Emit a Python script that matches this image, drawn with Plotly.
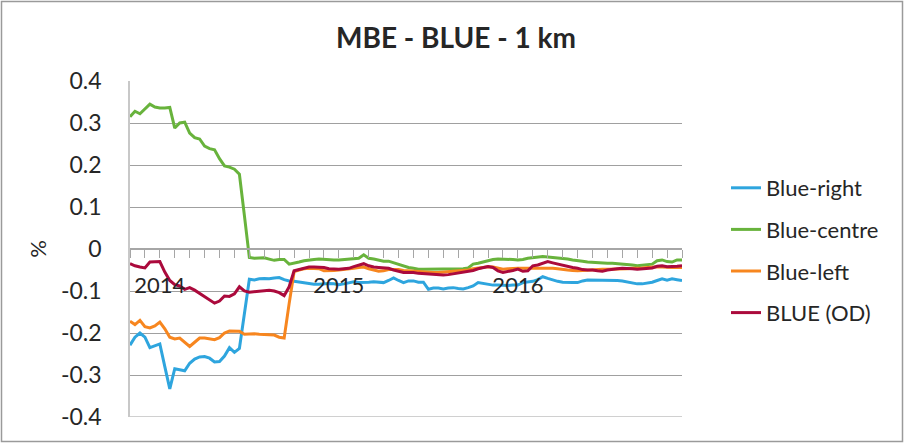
import plotly.graph_objects as go

# ---- data ----
period = list(range(112))  # dekadal periods

blue_right = [-0.229, -0.210, -0.200, -0.210, -0.235, -0.230, -0.226, -0.280, -0.333, -0.285,
              -0.287, -0.290, -0.272, -0.262, -0.257, -0.256, -0.260, -0.269, -0.268, -0.255,
              -0.235, -0.246, -0.237, -0.160, -0.072, -0.074, -0.071, -0.070, -0.071, -0.069,
              -0.068, -0.073, -0.076, -0.077, -0.079, -0.081, -0.083, -0.084, -0.084, -0.083,
              -0.082, -0.083, -0.085, -0.083, -0.080, -0.078, -0.080, -0.080, -0.079, -0.078,
              -0.079, -0.080, -0.075, -0.069, -0.075, -0.080, -0.076, -0.076, -0.079, -0.079,
              -0.096, -0.093, -0.093, -0.095, -0.093, -0.092, -0.094, -0.095, -0.092, -0.088,
              -0.080, -0.082, -0.085, -0.086, -0.086, -0.087, -0.087, -0.086, -0.086, -0.080,
              -0.078, -0.077, -0.073, -0.066, -0.070, -0.074, -0.077, -0.079, -0.080, -0.080,
              -0.080, -0.076, -0.074, -0.074, -0.074, -0.075, -0.074, -0.074, -0.075, -0.076,
              -0.078, -0.081, -0.083, -0.083, -0.081, -0.079, -0.075, -0.071, -0.074, -0.071,
              -0.073, -0.075]

blue_centre = [0.315, 0.328, 0.322, 0.333, 0.345, 0.338, 0.336, 0.336, 0.337, 0.288,
               0.300, 0.302, 0.276, 0.265, 0.262, 0.245, 0.239, 0.236, 0.215, 0.198,
               0.195, 0.190, 0.178, 0.080, -0.020, -0.022, -0.022, -0.021, -0.024, -0.027,
               -0.025, -0.025, -0.036, -0.034, -0.031, -0.028, -0.026, -0.025, -0.024, -0.025,
               -0.025, -0.026, -0.026, -0.025, -0.024, -0.024, -0.022, -0.014, -0.022, -0.024,
               -0.027, -0.029, -0.029, -0.033, -0.037, -0.041, -0.044, -0.046, -0.048, -0.048,
               -0.048, -0.048, -0.048, -0.048, -0.048, -0.048, -0.048, -0.047, -0.045, -0.036,
               -0.034, -0.031, -0.027, -0.025, -0.024, -0.024, -0.024, -0.025, -0.026, -0.025,
               -0.022, -0.021, -0.019, -0.018, -0.019, -0.020, -0.021, -0.023, -0.024, -0.026,
               -0.027, -0.029, -0.031, -0.032, -0.033, -0.034, -0.034, -0.034, -0.035, -0.035,
               -0.036, -0.038, -0.040, -0.039, -0.038, -0.036, -0.028, -0.026, -0.030, -0.031,
               -0.026, -0.026]

blue_left = [-0.172, -0.180, -0.170, -0.185, -0.188, -0.183, -0.174, -0.190, -0.210, -0.214,
             -0.212, -0.222, -0.232, -0.222, -0.212, -0.212, -0.214, -0.216, -0.211, -0.200,
             -0.195, -0.195, -0.196, -0.203, -0.202, -0.202, -0.203, -0.204, -0.205, -0.205,
             -0.210, -0.212, -0.130, -0.054, -0.050, -0.047, -0.046, -0.046, -0.047, -0.052,
             -0.052, -0.051, -0.050, -0.049, -0.047, -0.046, -0.044, -0.043, -0.047, -0.050,
             -0.053, -0.052, -0.049, -0.049, -0.049, -0.051, -0.052, -0.053, -0.054, -0.055,
             -0.056, -0.056, -0.056, -0.055, -0.054, -0.054, -0.053, -0.051, -0.050, -0.047,
             -0.045, -0.043, -0.042, -0.043, -0.046, -0.048, -0.047, -0.046, -0.046, -0.046,
             -0.046, -0.045, -0.045, -0.046, -0.046, -0.046, -0.047, -0.049, -0.050, -0.051,
             -0.052, -0.051, -0.050, -0.049, -0.048, -0.048, -0.048, -0.048, -0.048, -0.047,
             -0.047, -0.046, -0.046, -0.045, -0.044, -0.043, -0.042, -0.043, -0.044, -0.044,
             -0.044, -0.044]

blue_od = [-0.035, -0.040, -0.043, -0.045, -0.031, -0.030, -0.030, -0.055, -0.075, -0.085,
           -0.088, -0.096, -0.092, -0.098, -0.106, -0.114, -0.122, -0.129, -0.124, -0.112,
           -0.113, -0.107, -0.090, -0.100, -0.103, -0.102, -0.101, -0.100, -0.098, -0.100,
           -0.104, -0.111, -0.090, -0.052, -0.049, -0.046, -0.043, -0.043, -0.044, -0.044,
           -0.047, -0.048, -0.048, -0.047, -0.046, -0.042, -0.038, -0.035, -0.040, -0.043,
           -0.044, -0.045, -0.046, -0.050, -0.053, -0.056, -0.056, -0.056, -0.058, -0.059,
           -0.060, -0.061, -0.062, -0.062, -0.061, -0.059, -0.058, -0.056, -0.054, -0.051,
           -0.047, -0.044, -0.042, -0.044, -0.052, -0.056, -0.054, -0.051, -0.048, -0.053,
           -0.052, -0.040, -0.038, -0.034, -0.030, -0.033, -0.036, -0.039, -0.042, -0.044,
           -0.046, -0.049, -0.050, -0.050, -0.052, -0.053, -0.050, -0.048, -0.047, -0.046,
           -0.046, -0.047, -0.048, -0.047, -0.046, -0.045, -0.041, -0.040, -0.042, -0.042,
           -0.041, -0.040]

series_names = ["Blue-right", "Blue-centre", "Blue-left", "BLUE (OD)"]
series_colors = ["#2ea5de", "#68b33c", "#f7861f", "#ab0a3c"]

year_tick_pos = [6, 42, 78]
year_labels = ["2014", "2015", "2016"]
y_tick_vals = [0.4, 0.3, 0.2, 0.1, 0, -0.1, -0.2, -0.3, -0.4]
y_tick_text = ["0.4", "0.3", "0.2", "0.1", "0", "-0.1", "-0.2", "-0.3", "-0.4"]

FONT = "Lato"
TXT = "#262626"

fig = go.Figure()
for i, (name, vals, col) in enumerate(zip(series_names,
                                          [blue_right, blue_centre, blue_left, blue_od],
                                          series_colors)):
    fig.add_trace(go.Scatter(x=period, y=vals, mode="lines", name=name,
                             legendgroup=name,
                             line=dict(color=col, width=3)))

L, R, T, B = 130, 222, 81, 26
W, H = 904, 443
pw, ph = W - L - R, H - T - B

def px_x(p):
    return (p - L) / pw

def px_y(p):
    return (H - B - p) / ph

fig.update_layout(
    width=W, height=H,
    margin=dict(l=L, r=R, t=T, b=B),
    paper_bgcolor="white", plot_bgcolor="white",
    font=dict(family=FONT, size=22, color=TXT),
    title=dict(text="<b>MBE - BLUE - 1 km</b>", xref="container", x=456 / W, xanchor="center",
               yref="container", y=1 - 38 / H, yanchor="middle",
               font=dict(family=FONT, size=28, color=TXT)),
    showlegend=True,
    legend=dict(x=px_x(726), xanchor="left", y=px_y(167), yanchor="top",
                font=dict(family=FONT, size=22, color=TXT),
                tracegroupgap=10, bgcolor="rgba(0,0,0,0)", borderwidth=0),
    xaxis=dict(range=[0, 111], anchor="free", position=0.5,
               showgrid=False, zeroline=False,
               showline=True, linecolor="#a6a6a6", linewidth=1.5,
               tickmode="array", tickvals=year_tick_pos, ticktext=year_labels,
               ticks="outside", ticklen=8, tickcolor="#a6a6a6", tickwidth=1.2,
               ticklabelstandoff=9,
               minor=dict(ticks="outside", ticklen=8, tickcolor="#a6a6a6",
                          tickwidth=1.2, dtick=3, tick0=0, showgrid=False),
               tickfont=dict(family=FONT, size=22, color=TXT)),
    yaxis=dict(range=[-0.4, 0.4], tickmode="array", tickvals=y_tick_vals,
               ticktext=y_tick_text, showgrid=True, gridcolor="#a0a0a0", gridwidth=1,
               zeroline=False, showline=True, linecolor="#c8c8c8", linewidth=1.5,
               ticks="", ticklabelstandoff=22,
               tickfont=dict(family=FONT, size=23, color=TXT),
               title=dict(text="%", standoff=8, font=dict(family=FONT, size=22, color=TXT))),
)

# bottom gridline (hidden by plotly at the range edge)
fig.add_shape(type="line", xref="paper", yref="y", x0=0, x1=1,
              y0=y_tick_vals[-1], y1=y_tick_vals[-1],
              line=dict(color="#a0a0a0", width=1), layer="below")

# outer chart border
fig.add_shape(type="rect", xref="paper", yref="paper",
              x0=px_x(1.5), x1=px_x(W - 1.5), y0=px_y(H - 1.5), y1=px_y(1.5),
              line=dict(color="#9a9a9a", width=1.5), fillcolor="rgba(0,0,0,0)", layer="below")

fig.write_html("out.html", config={"displayModeBar": False},
               post_script="document.body.style.margin='0px';")
